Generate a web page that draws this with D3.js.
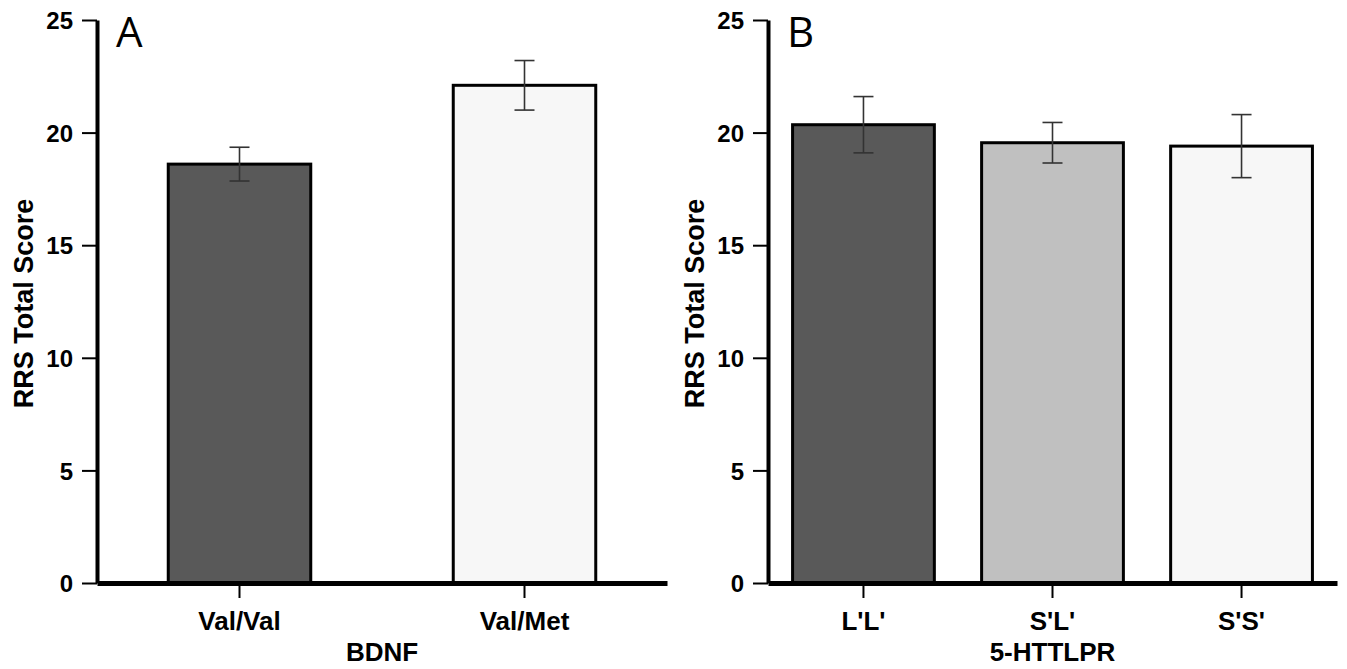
<!DOCTYPE html>
<html>
<head>
<meta charset="utf-8">
<script src="https://cdn.jsdelivr.net/npm/d3@7"></script>
<style>
  body { margin: 0; background: #fff; }
  svg text { font-family: "Liberation Sans", Arial, sans-serif; font-weight: bold; fill: #000; }
</style>
</head>
<body>
<div id="chart"></div>
<script>
// panel A - BDNF
const bdnfGroups = ['Val/Val', 'Val/Met']
const bdnfMeans = [18.6, 22.1]
const bdnfSE = [0.75, 1.1]
const bdnfColors = ['#595959', '#f7f7f7']

// panel B - 5-HTTLPR
const httGroups = ["L'L'", "S'L'", "S'S'"]
const httMeans = [20.35, 19.55, 19.4]
const httSE = [1.25, 0.9, 1.4]
const httColors = ['#595959', '#c0c0c0', '#f7f7f7']

const yTicks = [0, 5, 10, 15, 20, 25]

const width = 1347
const height = 669

const svg = d3.select('#chart')
  .append('svg')
  .attr('width', width)
  .attr('height', height)

function drawPanel (conf) {
  const {left, right, top, bottom, groups, means, se, colors, padIn, padOut, letter, xTitle, titleX} = conf

  const x = d3.scaleBand()
    .domain(groups)
    .range([left, right])
    .paddingInner(padIn)
    .paddingOuter(padOut)

  const y = d3.scaleLinear()
    .domain([0, 25])
    .range([bottom, top])

  const g = svg.append('g')

  // bars
  g.selectAll('rect.bar')
    .data(groups)
    .enter()
    .append('rect')
    .attr('class', 'bar')
    .attr('x', d => x(d))
    .attr('y', (d, i) => y(means[i]))
    .attr('width', x.bandwidth())
    .attr('height', (d, i) => y(0) - y(means[i]))
    .style('fill', (d, i) => colors[i])
    .style('stroke', '#000')
    .style('stroke-width', 3)

  // error bars
  const cap = 10
  const err = g.selectAll('g.err')
    .data(groups)
    .enter()
    .append('g')
    .attr('class', 'err')
    .style('stroke', '#333')
    .style('stroke-width', 1.6)
  const cx = d => x(d) + x.bandwidth() / 2
  err.append('line')
    .attr('x1', cx).attr('x2', cx)
    .attr('y1', (d, i) => y(means[i] - se[i]))
    .attr('y2', (d, i) => y(means[i] + se[i]))
  err.append('line')
    .attr('x1', d => cx(d) - cap).attr('x2', d => cx(d) + cap)
    .attr('y1', (d, i) => y(means[i] + se[i]))
    .attr('y2', (d, i) => y(means[i] + se[i]))
  err.append('line')
    .attr('x1', d => cx(d) - cap).attr('x2', d => cx(d) + cap)
    .attr('y1', (d, i) => y(means[i] - se[i]))
    .attr('y2', (d, i) => y(means[i] - se[i]))

  // y axis
  const yAxis = g.append('g')
    .attr('transform', `translate(${left}, 0)`)
    .call(d3.axisLeft(y).tickValues(yTicks).tickSize(15).tickSizeOuter(0).tickPadding(9))
  yAxis.select('.domain').style('stroke-width', 4).style('stroke', '#000')
  yAxis.selectAll('.tick line').style('stroke-width', 2).style('stroke', '#000')
  yAxis.selectAll('.tick text').style('font-size', '24px').attr('dy', '0.36em')

  // x axis
  const xAxis = g.append('g')
    .attr('transform', `translate(0, ${bottom})`)
    .call(d3.axisBottom(x).tickSize(15).tickSizeOuter(0).tickPadding(14))
  xAxis.select('.domain').style('stroke-width', 5).style('stroke', '#000')
  xAxis.selectAll('.tick line').style('stroke-width', 2).style('stroke', '#000')
  xAxis.selectAll('.tick text').style('font-size', '26px')

  // titles
  g.append('text')
    .text('RRS Total Score')
    .attr('transform', `translate(${titleX}, ${(top + bottom) / 2 + 2}) rotate(-90)`)
    .attr('text-anchor', 'middle')
    .style('font-size', '27px')

  g.append('text')
    .text(xTitle)
    .attr('x', (left + right) / 2)
    .attr('y', 661)
    .attr('text-anchor', 'middle')
    .style('font-size', '26px')

  g.append('text')
    .text(letter)
    .attr('x', left + 19)
    .attr('y', 47)
    .style('font-family', '"Open Sans", sans-serif')
    .style('font-weight', 'normal')
    .style('font-size', '42px')
}

drawPanel({
  left: 97, right: 667, top: 20, bottom: 583,
  groups: bdnfGroups, means: bdnfMeans, se: bdnfSE, colors: bdnfColors,
  padIn: 0.5, padOut: 0.25, letter: 'A', xTitle: 'BDNF', titleX: 33
})

drawPanel({
  left: 768, right: 1337, top: 20, bottom: 583,
  groups: httGroups, means: httMeans, se: httSE, colors: httColors,
  padIn: 0.25, padOut: 0.13, letter: 'B', xTitle: '5-HTTLPR', titleX: 704
})
</script>
</body>
</html>
